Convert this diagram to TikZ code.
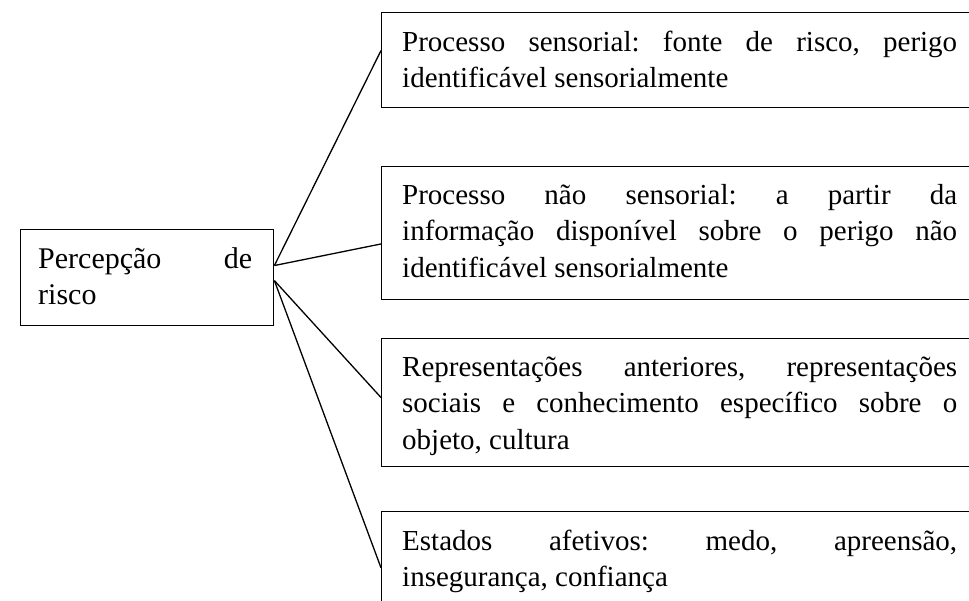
\documentclass[tikz,border=0pt]{standalone}
\usepackage{fontspec}
\setmainfont{Liberation Serif}
\usetikzlibrary{calc}
\frenchspacing
\begin{document}
\begin{tikzpicture}[x=1pt,y=-1pt,
  box/.style={draw, line width=1.4pt, inner sep=0pt, anchor=north west},
  txt/.style={inner sep=0pt, anchor=base west, align=justify, text width=555pt,
    font=\fontsize{29}{36.5}\selectfont\frenchspacing},
  ltxt/.style={inner sep=0pt, anchor=base west, align=justify, text width=214pt,
    font=\fontsize{30}{36.5}\selectfont\frenchspacing},
  link/.style={line width=1.3pt}]
\clip (0,0) rectangle (969,600);
\fill[white] (0,0) rectangle (969,600);
% left box
\node[box, minimum width=253pt, minimum height=96pt] (L) at (20,229) {};
\node[ltxt] (lt) at (38,268) {Percepção de\linebreak risco};
% right boxes
\node[box, minimum width=620pt, minimum height=95pt] (b1) at (381,12) {};
\node[box, minimum width=620pt, minimum height=133pt] (b2) at (381,166) {};
\node[box, minimum width=620pt, minimum height=128pt] (b3) at (381,338) {};
\node[box, minimum width=620pt, minimum height=110pt] (b4) at (381,511) {};
\node[txt] (t1) at (402,51) {Processo sensorial: fonte de risco, perigo\linebreak identificável sensorialmente};
\node[txt] (t2) at (402,204) {Processo não sensorial: a partir da\linebreak informação disponível sobre o perigo não\linebreak identificável sensorialmente};
\node[txt] (t3) at (402,376) {Representações anteriores, representações\linebreak sociais e conhecimento específico sobre o\linebreak objeto, cultura};
\node[txt] (t4) at (402,550) {Estados afetivos: medo, apreensão,\linebreak insegurança, confiança};
% connectors
\draw[link] ($(L.north east)!0.375!(L.south east)$) -- ($(b1.north west)!0.4!(b1.south west)$);
\draw[link] ($(L.north east)!0.375!(L.south east)$) -- ($(b2.north west)!0.58!(b2.south west)$);
\draw[link] ($(L.north east)!0.53!(L.south east)$) -- ($(b3.north west)!0.46!(b3.south west)$);
\draw[link] ($(L.north east)!0.53!(L.south east)$) -- ($(b4.north west)!0.51!(b4.south west)$);
\end{tikzpicture}
\end{document}
